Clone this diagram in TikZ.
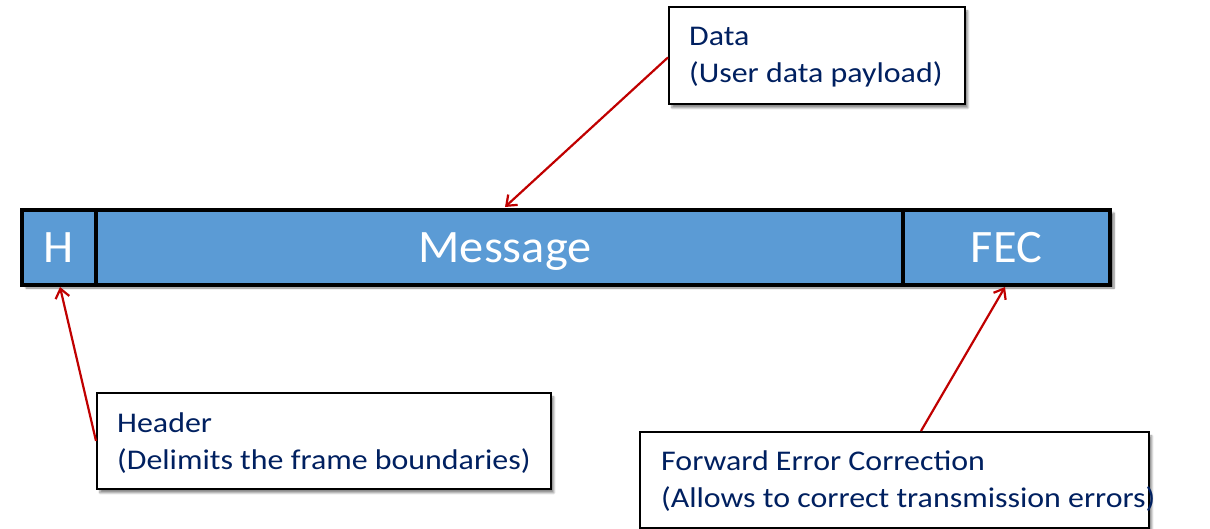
\documentclass[tikz,border=0pt]{standalone}
\usepackage{fontspec}
\setmainfont{Carlito}
\newfontfamily\barfont[FakeStretch=1.04]{Carlito}
\newfontfamily\labelfont[FakeStretch=1.12]{Carlito}
\usetikzlibrary{arrows.meta,shadows.blur,calc}
\definecolor{barblue}{RGB}{91,155,213}
\definecolor{navy}{RGB}{0,32,96}
\definecolor{arrred}{RGB}{192,0,0}
\tikzset{
  seg/.style={draw=black,line width=4pt,fill=barblue,text=white,inner sep=0pt,
    minimum height=75pt,text height=30pt,text depth=0pt,font=\barfont\fontsize{46.5}{50}\selectfont},
  labelbox/.style={draw=black,line width=1.8pt,fill=white,anchor=north west,
    blur shadow={shadow xshift=3pt,shadow yshift=-4pt,shadow blur steps=6,shadow opacity=45}},
  labeltext/.style={text=navy,inner sep=0pt,anchor=base west,font=\labelfont\fontsize{28.5}{37.5}\selectfont},
  pointer/.style={draw=arrred,line width=2.2pt,-{Straight Barb[length=9pt,width=14pt,line width=2.2pt]}}
}
\begin{document}
\begin{tikzpicture}[x=1pt,y=-1pt]
\useasboundingbox (0,0) rectangle (1210,528);
\fill[white,blur shadow={shadow xshift=4pt,shadow yshift=-5pt,shadow blur steps=6,shadow opacity=50}] (22,208) rectangle (1110,283);
\node[seg,minimum width=74pt] (hseg) at (59,247.5) {H};
\node[seg,minimum width=807pt] (msg) at (499.5,247.5) {\hspace*{11pt}Message};
\node[seg,minimum width=207pt] (fec) at (1006.5,247.5) {FEC};
\node[labelbox,minimum width=296pt,minimum height=97pt] (data) at (668,6) {};
\node[labeltext] (datatext) at ($(data.north west)+(21,39)$) {\begin{tabular}[t]{@{}l@{}}Data\\(User data payload)\end{tabular}};
\node[labelbox,minimum width=454pt,minimum height=96pt] (header) at (96,392) {};
\node[labeltext] (headertext) at ($(header.north west)+(21,40)$) {\begin{tabular}[t]{@{}l@{}}Header\\(Delimits the frame boundaries)\end{tabular}};
\node[labelbox,minimum width=509pt,minimum height=96pt] (fecbox) at (639,431) {};
\node[labeltext] (fectext) at ($(fecbox.north west)+(22,39)$) {\begin{tabular}[t]{@{}l@{}}Forward Error Correction\\(Allows to correct transmission errors)\end{tabular}};
\draw[pointer] ($(data.west)+(0,2)$) -- ($(msg.north)+(5.5,-1)$);
\draw[pointer] (header.west) -- ($(hseg.south)+(1,0)$);
\draw[pointer] ($(fecbox.north west)+(282,0)$) -- ($(fec.south)+(-1.5,0)$);
\end{tikzpicture}
\end{document}
